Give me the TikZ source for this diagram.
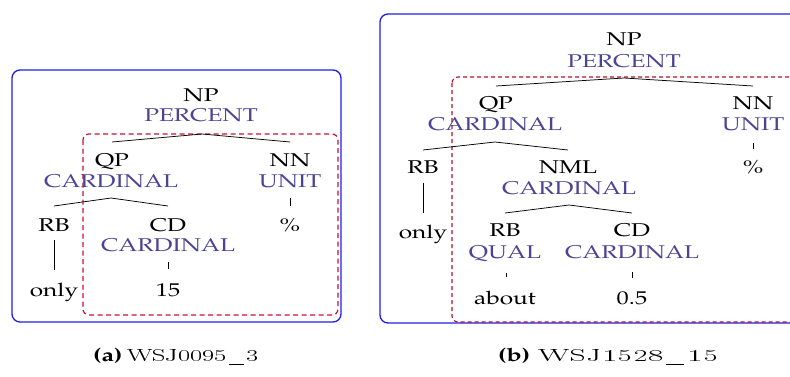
\documentclass[tikz,border=0pt]{standalone}
\usepackage[T1]{fontenc}
\usepackage{mathpazo}
\usepackage{graphicx}
\definecolor{semcol}{RGB}{75,68,150}
\definecolor{frameblue}{RGB}{30,30,235}
\definecolor{spanred}{RGB}{200,20,50}
% text is set slightly widened
\newcommand\sx[1]{\scalebox{1.32}[1]{#1}}
\tikzset{
  cat/.style={anchor=base, inner sep=0pt, font=\fontsize{18.5}{19}\selectfont},
  sem/.style={cat, text=semcol},
  word/.style={cat},
  edge/.style={line width=0.75pt},
  frame/.style={draw=frameblue, line width=1.3pt, rounded corners=8pt},
  span/.style={draw=spanred, line width=1.2pt, dash pattern=on 5pt off 3.5pt, rounded corners=6pt},
  capt/.style={anchor=base west, inner sep=0pt, font=\fontsize{18.5}{19}\selectfont}
}
\begin{document}
\begin{tikzpicture}[x=1pt,y=-1pt]
\useasboundingbox (0,0) rectangle (790,376);
\begin{scope}
\clip (0,0) rectangle (790,376);

% ---------------- (a) ----------------
\draw[frame] (12,70) rectangle (341,322);
\draw[span] (83,134) rectangle (338,315);

\node[cat] (a-np) at (201,101) {\sx{NP}};
\node[sem] (a-nps) at (201,121.5) {\sx{PERCENT}};
\node[cat] (a-qp) at (112,166) {\sx{QP}};
\node[sem] (a-qps) at (111,187.5) {\sx{CARDINAL}};
\node[cat] (a-nn) at (290,166) {\sx{NN}};
\node[sem] (a-nns) at (290,187.5) {\sx{UNIT}};
\node[word] (a-pct) at (290,231) {\sx{\%}};
\node[cat] (a-rb) at (54,231) {\sx{RB}};
\node[word] (a-only) at (54,296) {\sx{only}};
\node[cat] (a-cd) at (168,231) {\sx{CD}};
\node[sem] (a-cds) at (168,251) {\sx{CARDINAL}};
\node[word] (a-15) at (168,296) {\sx{15}};

\coordinate (a-np-b) at (202,134);
\coordinate (a-qp-t) at (112,142);
\coordinate (a-nn-t) at (290,142);
\coordinate (a-qp-b) at (111,198);
\coordinate (a-rb-t) at (54,206);
\coordinate (a-cd-t) at (168,206);
\coordinate (a-nn-b) at (290,198);
\coordinate (a-pct-t) at (290,206);
\coordinate (a-rb-b) at (54,240);
\coordinate (a-only-t) at (54,270);
\coordinate (a-cd-b) at (168,262);
\coordinate (a-15-t) at (168,269);

\draw[edge] (a-qp-t) -- (a-np-b) -- (a-nn-t);
\draw[edge] (a-rb-t) -- (a-qp-b) -- (a-cd-t);
\draw[edge] (a-nn-b) -- (a-pct-t);
\draw[edge] (a-rb-b) -- (a-only-t);
\draw[edge] (a-cd-b) -- (a-15-t);

% ---------------- (b) ----------------
\draw[frame] (380,14) rectangle (820,323);
\draw[span, line width=1.1pt, draw=spanred!90!black, dash pattern=on 4pt off 3pt] (452,77) rectangle (820,322);

\node[cat] (b-np) at (624,45.5) {\sx{NP}};
\node[sem] (b-nps) at (624,67.5) {\sx{PERCENT}};
\node[cat] (b-qp) at (496,109.5) {\sx{QP}};
\node[sem] (b-qps) at (495,130.5) {\sx{CARDINAL}};
\node[cat] (b-nn) at (753,109.5) {\sx{NN}};
\node[sem] (b-nns) at (753,130.5) {\sx{UNIT}};
\node[word] (b-pct) at (753,173) {\sx{\%}};
\node[cat] (b-rb) at (423,173) {\sx{RB}};
\node[word] (b-only) at (423,238) {\sx{only}};
\node[cat] (b-nml) at (568,173) {\sx{NML}};
\node[sem] (b-nmls) at (569,194.5) {\sx{CARDINAL}};
\node[cat] (b-rb2) at (505,236.5) {\sx{RB}};
\node[sem] (b-rb2s) at (505,258.5) {\sx{QUAL}};
\node[word] (b-about) at (505,304) {\sx{about}};
\node[cat] (b-cd) at (632,236.5) {\sx{CD}};
\node[sem] (b-cds) at (632,258.5) {\sx{CARDINAL}};
\node[word] (b-05) at (632,304) {\sx{0.5}};

\coordinate (b-np-b) at (624,78);
\coordinate (b-qp-t) at (496,86);
\coordinate (b-nn-t) at (753,86);
\coordinate (b-qp-b) at (495,142);
\coordinate (b-rb-t) at (423,150);
\coordinate (b-nml-t) at (568,150);
\coordinate (b-nn-b) at (753,143);
\coordinate (b-pct-t) at (753,149);
\coordinate (b-rb-b) at (423,183);
\coordinate (b-only-t) at (423,213);
\coordinate (b-nml-b) at (569,205);
\coordinate (b-rb2-t) at (505,213);
\coordinate (b-cd-t) at (632,213);
\coordinate (b-rb2-b) at (506,273);
\coordinate (b-about-t) at (506,277);
\coordinate (b-cd-b) at (632,272);
\coordinate (b-05-t) at (632,278);

\draw[edge] (b-qp-t) -- (b-np-b) -- (b-nn-t);
\draw[edge] (b-rb-t) -- (b-qp-b) -- (b-nml-t);
\draw[edge] (b-nn-b) -- (b-pct-t);
\draw[edge] (b-rb-b) -- (b-only-t);
\draw[edge] (b-rb2-t) -- (b-nml-b) -- (b-cd-t);
\draw[edge] (b-rb2-b) -- (b-about-t);
\draw[edge] (b-cd-b) -- (b-05-t);
\end{scope}

% ---------------- captions ----------------
\node[capt] (cap-a) at (93,361)
  {\scalebox{1.35}[1]{\textbf{(a)}}\hspace{5pt}\scalebox{1.5}[1]{\texttt{WSJ0095\_3}}};
\node[capt] (cap-b) at (498,361)
  {\scalebox{1.35}[1]{\textbf{(b)}}\hspace{8pt}\scalebox{1.89}[1]{\texttt{WSJ1528\_15}}};
\end{tikzpicture}
\end{document}
